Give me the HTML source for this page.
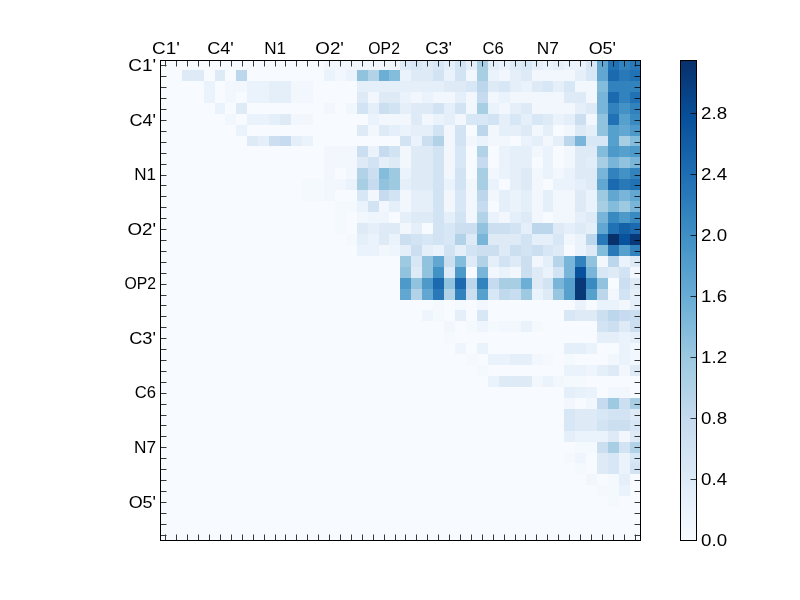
<!DOCTYPE html>
<html><head><meta charset="utf-8"><title>heatmap</title>
<style>html,body{margin:0;padding:0;background:#fff;}svg{display:block;will-change:transform;}text{font-family:"Liberation Sans",sans-serif;font-size:16.6px;fill:#000;}</style></head><body>
<svg width="800" height="600" viewBox="0 0 800 600">
<rect x="0" y="0" width="800" height="600" fill="#fff"/>
<g shape-rendering="crispEdges">
<rect x="160" y="60" width="481" height="481" fill="#f7fbff"/>
<rect x="324" y="60" width="76" height="10" fill="#f1f7fd"/>
<rect x="400" y="60" width="11" height="10" fill="#deebf7"/>
<rect x="411" y="60" width="11" height="10" fill="#d8e7f5"/>
<rect x="422" y="60" width="11" height="10" fill="#deebf7"/>
<rect x="433" y="60" width="11" height="10" fill="#d8e7f5"/>
<rect x="444" y="60" width="11" height="10" fill="#e4eff9"/>
<rect x="455" y="60" width="11" height="10" fill="#d2e3f3"/>
<rect x="466" y="60" width="11" height="10" fill="#e4eff9"/>
<rect x="477" y="60" width="11" height="10" fill="#a8cee4"/>
<rect x="488" y="60" width="11" height="10" fill="#e4eff9"/>
<rect x="499" y="60" width="11" height="10" fill="#eaf3fb"/>
<rect x="510" y="60" width="11" height="10" fill="#deebf7"/>
<rect x="521" y="60" width="11" height="10" fill="#d8e7f5"/>
<rect x="532" y="60" width="11" height="10" fill="#e4eff9"/>
<rect x="543" y="60" width="10" height="10" fill="#eaf3fb"/>
<rect x="553" y="60" width="11" height="10" fill="#e4eff9"/>
<rect x="564" y="60" width="22" height="10" fill="#eaf3fb"/>
<rect x="586" y="60" width="11" height="10" fill="#d8e7f5"/>
<rect x="597" y="60" width="11" height="10" fill="#61a7d2"/>
<rect x="608" y="60" width="11" height="10" fill="#2171b5"/>
<rect x="619" y="60" width="11" height="10" fill="#3282be"/>
<rect x="630" y="60" width="11" height="10" fill="#2979b9"/>
<rect x="182" y="70" width="22" height="11" fill="#deebf7"/>
<rect x="215" y="70" width="10" height="11" fill="#deebf7"/>
<rect x="236" y="70" width="11" height="11" fill="#bcd7ec"/>
<rect x="324" y="70" width="11" height="11" fill="#eaf3fb"/>
<rect x="335" y="70" width="11" height="11" fill="#f1f7fd"/>
<rect x="346" y="70" width="11" height="11" fill="#eaf3fb"/>
<rect x="357" y="70" width="11" height="11" fill="#91c3de"/>
<rect x="368" y="70" width="11" height="11" fill="#b2d2e8"/>
<rect x="379" y="70" width="10" height="11" fill="#6baed6"/>
<rect x="389" y="70" width="11" height="11" fill="#84bcdc"/>
<rect x="400" y="70" width="11" height="11" fill="#eaf3fb"/>
<rect x="411" y="70" width="22" height="11" fill="#deebf7"/>
<rect x="433" y="70" width="11" height="11" fill="#d2e3f3"/>
<rect x="444" y="70" width="11" height="11" fill="#eaf3fb"/>
<rect x="455" y="70" width="11" height="11" fill="#d2e3f3"/>
<rect x="466" y="70" width="11" height="11" fill="#f1f7fd"/>
<rect x="477" y="70" width="11" height="11" fill="#a8cee4"/>
<rect x="488" y="70" width="11" height="11" fill="#eaf3fb"/>
<rect x="499" y="70" width="11" height="11" fill="#f1f7fd"/>
<rect x="510" y="70" width="11" height="11" fill="#e4eff9"/>
<rect x="521" y="70" width="11" height="11" fill="#deebf7"/>
<rect x="532" y="70" width="43" height="11" fill="#f1f7fd"/>
<rect x="575" y="70" width="11" height="11" fill="#e4eff9"/>
<rect x="586" y="70" width="11" height="11" fill="#d8e7f5"/>
<rect x="597" y="70" width="11" height="11" fill="#61a7d2"/>
<rect x="608" y="70" width="11" height="11" fill="#1b69af"/>
<rect x="619" y="70" width="11" height="11" fill="#2979b9"/>
<rect x="630" y="70" width="11" height="11" fill="#2171b5"/>
<rect x="204" y="81" width="11" height="11" fill="#eaf3fb"/>
<rect x="225" y="81" width="22" height="11" fill="#f1f7fd"/>
<rect x="247" y="81" width="22" height="11" fill="#eaf3fb"/>
<rect x="269" y="81" width="22" height="11" fill="#e4eff9"/>
<rect x="291" y="81" width="22" height="11" fill="#f1f7fd"/>
<rect x="357" y="81" width="87" height="11" fill="#e4eff9"/>
<rect x="444" y="81" width="22" height="11" fill="#deebf7"/>
<rect x="466" y="81" width="11" height="11" fill="#d8e7f5"/>
<rect x="477" y="81" width="11" height="11" fill="#bcd7ec"/>
<rect x="488" y="81" width="11" height="11" fill="#deebf7"/>
<rect x="499" y="81" width="11" height="11" fill="#d8e7f5"/>
<rect x="510" y="81" width="11" height="11" fill="#e4eff9"/>
<rect x="521" y="81" width="11" height="11" fill="#eaf3fb"/>
<rect x="532" y="81" width="11" height="11" fill="#deebf7"/>
<rect x="543" y="81" width="10" height="11" fill="#d8e7f5"/>
<rect x="553" y="81" width="11" height="11" fill="#e4eff9"/>
<rect x="564" y="81" width="11" height="11" fill="#d8e7f5"/>
<rect x="575" y="81" width="22" height="11" fill="#f1f7fd"/>
<rect x="597" y="81" width="11" height="11" fill="#84bcdc"/>
<rect x="608" y="81" width="33" height="11" fill="#3282be"/>
<rect x="204" y="92" width="11" height="11" fill="#eaf3fb"/>
<rect x="225" y="92" width="11" height="11" fill="#f1f7fd"/>
<rect x="247" y="92" width="22" height="11" fill="#eaf3fb"/>
<rect x="269" y="92" width="22" height="11" fill="#e4eff9"/>
<rect x="291" y="92" width="22" height="11" fill="#f1f7fd"/>
<rect x="357" y="92" width="11" height="11" fill="#deebf7"/>
<rect x="368" y="92" width="11" height="11" fill="#f1f7fd"/>
<rect x="379" y="92" width="21" height="11" fill="#deebf7"/>
<rect x="400" y="92" width="11" height="11" fill="#eaf3fb"/>
<rect x="411" y="92" width="11" height="11" fill="#f1f7fd"/>
<rect x="422" y="92" width="11" height="11" fill="#eaf3fb"/>
<rect x="433" y="92" width="22" height="11" fill="#f1f7fd"/>
<rect x="455" y="92" width="11" height="11" fill="#e4eff9"/>
<rect x="466" y="92" width="11" height="11" fill="#f1f7fd"/>
<rect x="477" y="92" width="11" height="11" fill="#c6dbef"/>
<rect x="488" y="92" width="11" height="11" fill="#f1f7fd"/>
<rect x="499" y="92" width="11" height="11" fill="#eaf3fb"/>
<rect x="510" y="92" width="54" height="11" fill="#f1f7fd"/>
<rect x="564" y="92" width="22" height="11" fill="#deebf7"/>
<rect x="586" y="92" width="11" height="11" fill="#f1f7fd"/>
<rect x="597" y="92" width="11" height="11" fill="#78b5d9"/>
<rect x="608" y="92" width="11" height="11" fill="#1b69af"/>
<rect x="619" y="92" width="11" height="11" fill="#3282be"/>
<rect x="630" y="92" width="11" height="11" fill="#2171b5"/>
<rect x="215" y="103" width="10" height="11" fill="#eaf3fb"/>
<rect x="236" y="103" width="11" height="11" fill="#deebf7"/>
<rect x="324" y="103" width="11" height="11" fill="#f1f7fd"/>
<rect x="346" y="103" width="11" height="11" fill="#f1f7fd"/>
<rect x="357" y="103" width="11" height="11" fill="#d2e3f3"/>
<rect x="368" y="103" width="11" height="11" fill="#e4eff9"/>
<rect x="379" y="103" width="10" height="11" fill="#ccdff1"/>
<rect x="389" y="103" width="11" height="11" fill="#d2e3f3"/>
<rect x="400" y="103" width="11" height="11" fill="#e4eff9"/>
<rect x="411" y="103" width="22" height="11" fill="#deebf7"/>
<rect x="433" y="103" width="11" height="11" fill="#d2e3f3"/>
<rect x="444" y="103" width="11" height="11" fill="#e4eff9"/>
<rect x="455" y="103" width="11" height="11" fill="#d2e3f3"/>
<rect x="466" y="103" width="11" height="11" fill="#f1f7fd"/>
<rect x="477" y="103" width="11" height="11" fill="#a8cee4"/>
<rect x="488" y="103" width="11" height="11" fill="#eaf3fb"/>
<rect x="499" y="103" width="11" height="11" fill="#f1f7fd"/>
<rect x="510" y="103" width="11" height="11" fill="#e4eff9"/>
<rect x="521" y="103" width="11" height="11" fill="#deebf7"/>
<rect x="532" y="103" width="43" height="11" fill="#f1f7fd"/>
<rect x="575" y="103" width="11" height="11" fill="#e4eff9"/>
<rect x="586" y="103" width="11" height="11" fill="#deebf7"/>
<rect x="597" y="103" width="11" height="11" fill="#78b5d9"/>
<rect x="608" y="103" width="11" height="11" fill="#3282be"/>
<rect x="619" y="103" width="11" height="11" fill="#4292c6"/>
<rect x="630" y="103" width="11" height="11" fill="#3282be"/>
<rect x="225" y="114" width="11" height="11" fill="#f1f7fd"/>
<rect x="247" y="114" width="22" height="11" fill="#eaf3fb"/>
<rect x="269" y="114" width="11" height="11" fill="#e4eff9"/>
<rect x="280" y="114" width="11" height="11" fill="#deebf7"/>
<rect x="291" y="114" width="22" height="11" fill="#f1f7fd"/>
<rect x="368" y="114" width="11" height="11" fill="#eaf3fb"/>
<rect x="379" y="114" width="32" height="11" fill="#f1f7fd"/>
<rect x="411" y="114" width="11" height="11" fill="#deebf7"/>
<rect x="422" y="114" width="11" height="11" fill="#f1f7fd"/>
<rect x="433" y="114" width="11" height="11" fill="#eaf3fb"/>
<rect x="444" y="114" width="11" height="11" fill="#e4eff9"/>
<rect x="455" y="114" width="11" height="11" fill="#f1f7fd"/>
<rect x="466" y="114" width="22" height="11" fill="#d8e7f5"/>
<rect x="488" y="114" width="11" height="11" fill="#d2e3f3"/>
<rect x="499" y="114" width="11" height="11" fill="#e4eff9"/>
<rect x="510" y="114" width="11" height="11" fill="#d8e7f5"/>
<rect x="521" y="114" width="11" height="11" fill="#e4eff9"/>
<rect x="532" y="114" width="11" height="11" fill="#d8e7f5"/>
<rect x="543" y="114" width="10" height="11" fill="#deebf7"/>
<rect x="553" y="114" width="11" height="11" fill="#eaf3fb"/>
<rect x="564" y="114" width="11" height="11" fill="#e4eff9"/>
<rect x="575" y="114" width="11" height="11" fill="#ccdff1"/>
<rect x="586" y="114" width="11" height="11" fill="#f1f7fd"/>
<rect x="597" y="114" width="11" height="11" fill="#91c3de"/>
<rect x="608" y="114" width="11" height="11" fill="#2171b5"/>
<rect x="619" y="114" width="11" height="11" fill="#56a0ce"/>
<rect x="630" y="114" width="11" height="11" fill="#3a8ac2"/>
<rect x="236" y="125" width="11" height="11" fill="#eaf3fb"/>
<rect x="357" y="125" width="11" height="11" fill="#deebf7"/>
<rect x="368" y="125" width="11" height="11" fill="#f1f7fd"/>
<rect x="379" y="125" width="10" height="11" fill="#deebf7"/>
<rect x="389" y="125" width="11" height="11" fill="#e4eff9"/>
<rect x="400" y="125" width="11" height="11" fill="#eaf3fb"/>
<rect x="411" y="125" width="22" height="11" fill="#e4eff9"/>
<rect x="433" y="125" width="11" height="11" fill="#d2e3f3"/>
<rect x="444" y="125" width="11" height="11" fill="#f1f7fd"/>
<rect x="455" y="125" width="11" height="11" fill="#d2e3f3"/>
<rect x="477" y="125" width="11" height="11" fill="#bcd7ec"/>
<rect x="488" y="125" width="11" height="11" fill="#f1f7fd"/>
<rect x="499" y="125" width="22" height="11" fill="#e4eff9"/>
<rect x="521" y="125" width="11" height="11" fill="#deebf7"/>
<rect x="532" y="125" width="11" height="11" fill="#f1f7fd"/>
<rect x="543" y="125" width="10" height="11" fill="#e4eff9"/>
<rect x="564" y="125" width="11" height="11" fill="#f1f7fd"/>
<rect x="575" y="125" width="11" height="11" fill="#deebf7"/>
<rect x="586" y="125" width="11" height="11" fill="#e4eff9"/>
<rect x="597" y="125" width="11" height="11" fill="#91c3de"/>
<rect x="608" y="125" width="11" height="11" fill="#56a0ce"/>
<rect x="619" y="125" width="11" height="11" fill="#61a7d2"/>
<rect x="630" y="125" width="11" height="11" fill="#4c99ca"/>
<rect x="247" y="136" width="11" height="10" fill="#deebf7"/>
<rect x="258" y="136" width="11" height="10" fill="#e4eff9"/>
<rect x="269" y="136" width="11" height="10" fill="#ccdff1"/>
<rect x="280" y="136" width="11" height="10" fill="#c6dbef"/>
<rect x="291" y="136" width="11" height="10" fill="#e4eff9"/>
<rect x="302" y="136" width="11" height="10" fill="#eaf3fb"/>
<rect x="400" y="136" width="11" height="10" fill="#d2e3f3"/>
<rect x="411" y="136" width="11" height="10" fill="#eaf3fb"/>
<rect x="422" y="136" width="11" height="10" fill="#ccdff1"/>
<rect x="433" y="136" width="11" height="10" fill="#b2d2e8"/>
<rect x="444" y="136" width="11" height="10" fill="#f1f7fd"/>
<rect x="455" y="136" width="11" height="10" fill="#d2e3f3"/>
<rect x="466" y="136" width="11" height="10" fill="#f1f7fd"/>
<rect x="477" y="136" width="11" height="10" fill="#eaf3fb"/>
<rect x="488" y="136" width="22" height="10" fill="#f1f7fd"/>
<rect x="521" y="136" width="11" height="10" fill="#eaf3fb"/>
<rect x="532" y="136" width="11" height="10" fill="#e4eff9"/>
<rect x="543" y="136" width="10" height="10" fill="#f1f7fd"/>
<rect x="553" y="136" width="11" height="10" fill="#e4eff9"/>
<rect x="564" y="136" width="11" height="10" fill="#bcd7ec"/>
<rect x="575" y="136" width="11" height="10" fill="#78b5d9"/>
<rect x="586" y="136" width="22" height="10" fill="#d8e7f5"/>
<rect x="608" y="136" width="11" height="10" fill="#56a0ce"/>
<rect x="619" y="136" width="11" height="10" fill="#a8cee4"/>
<rect x="630" y="136" width="11" height="10" fill="#84bcdc"/>
<rect x="324" y="146" width="33" height="11" fill="#f1f7fd"/>
<rect x="357" y="146" width="11" height="11" fill="#ccdff1"/>
<rect x="368" y="146" width="11" height="11" fill="#eaf3fb"/>
<rect x="379" y="146" width="10" height="11" fill="#c6dbef"/>
<rect x="389" y="146" width="11" height="11" fill="#d2e3f3"/>
<rect x="400" y="146" width="11" height="11" fill="#f1f7fd"/>
<rect x="411" y="146" width="22" height="11" fill="#deebf7"/>
<rect x="433" y="146" width="11" height="11" fill="#d2e3f3"/>
<rect x="444" y="146" width="11" height="11" fill="#f1f7fd"/>
<rect x="455" y="146" width="11" height="11" fill="#d8e7f5"/>
<rect x="477" y="146" width="11" height="11" fill="#b2d2e8"/>
<rect x="499" y="146" width="11" height="11" fill="#eaf3fb"/>
<rect x="510" y="146" width="22" height="11" fill="#e4eff9"/>
<rect x="532" y="146" width="11" height="11" fill="#f1f7fd"/>
<rect x="543" y="146" width="10" height="11" fill="#eaf3fb"/>
<rect x="564" y="146" width="11" height="11" fill="#f1f7fd"/>
<rect x="575" y="146" width="22" height="11" fill="#deebf7"/>
<rect x="597" y="146" width="11" height="11" fill="#84bcdc"/>
<rect x="608" y="146" width="11" height="11" fill="#4c99ca"/>
<rect x="619" y="146" width="11" height="11" fill="#56a0ce"/>
<rect x="630" y="146" width="11" height="11" fill="#4c99ca"/>
<rect x="324" y="157" width="33" height="11" fill="#f1f7fd"/>
<rect x="357" y="157" width="11" height="11" fill="#deebf7"/>
<rect x="368" y="157" width="11" height="11" fill="#d2e3f3"/>
<rect x="379" y="157" width="10" height="11" fill="#e4eff9"/>
<rect x="389" y="157" width="11" height="11" fill="#deebf7"/>
<rect x="400" y="157" width="11" height="11" fill="#f1f7fd"/>
<rect x="411" y="157" width="22" height="11" fill="#deebf7"/>
<rect x="433" y="157" width="11" height="11" fill="#d2e3f3"/>
<rect x="444" y="157" width="11" height="11" fill="#f1f7fd"/>
<rect x="455" y="157" width="11" height="11" fill="#d8e7f5"/>
<rect x="477" y="157" width="11" height="11" fill="#c6dbef"/>
<rect x="499" y="157" width="11" height="11" fill="#eaf3fb"/>
<rect x="510" y="157" width="22" height="11" fill="#e4eff9"/>
<rect x="543" y="157" width="10" height="11" fill="#eaf3fb"/>
<rect x="564" y="157" width="11" height="11" fill="#f1f7fd"/>
<rect x="575" y="157" width="11" height="11" fill="#deebf7"/>
<rect x="586" y="157" width="11" height="11" fill="#e1edf8"/>
<rect x="597" y="157" width="11" height="11" fill="#a8cee4"/>
<rect x="608" y="157" width="11" height="11" fill="#78b5d9"/>
<rect x="619" y="157" width="11" height="11" fill="#91c3de"/>
<rect x="630" y="157" width="11" height="11" fill="#78b5d9"/>
<rect x="324" y="168" width="11" height="11" fill="#f1f7fd"/>
<rect x="346" y="168" width="11" height="11" fill="#f1f7fd"/>
<rect x="357" y="168" width="11" height="11" fill="#b2d2e8"/>
<rect x="368" y="168" width="11" height="11" fill="#ccdff1"/>
<rect x="379" y="168" width="10" height="11" fill="#84bcdc"/>
<rect x="389" y="168" width="11" height="11" fill="#9ecae1"/>
<rect x="400" y="168" width="11" height="11" fill="#eaf3fb"/>
<rect x="411" y="168" width="22" height="11" fill="#deebf7"/>
<rect x="433" y="168" width="11" height="11" fill="#d2e3f3"/>
<rect x="444" y="168" width="11" height="11" fill="#f1f7fd"/>
<rect x="455" y="168" width="11" height="11" fill="#d2e3f3"/>
<rect x="477" y="168" width="11" height="11" fill="#a8cee4"/>
<rect x="488" y="168" width="11" height="11" fill="#f1f7fd"/>
<rect x="499" y="168" width="11" height="11" fill="#eaf3fb"/>
<rect x="510" y="168" width="11" height="11" fill="#e4eff9"/>
<rect x="521" y="168" width="11" height="11" fill="#deebf7"/>
<rect x="532" y="168" width="11" height="11" fill="#f1f7fd"/>
<rect x="543" y="168" width="10" height="11" fill="#eaf3fb"/>
<rect x="553" y="168" width="11" height="11" fill="#f1f7fd"/>
<rect x="564" y="168" width="11" height="11" fill="#eaf3fb"/>
<rect x="575" y="168" width="22" height="11" fill="#deebf7"/>
<rect x="597" y="168" width="11" height="11" fill="#78b5d9"/>
<rect x="608" y="168" width="11" height="11" fill="#3282be"/>
<rect x="619" y="168" width="11" height="11" fill="#4292c6"/>
<rect x="630" y="168" width="11" height="11" fill="#3282be"/>
<rect x="302" y="179" width="22" height="11" fill="#f4f9fe"/>
<rect x="324" y="179" width="22" height="11" fill="#f1f7fd"/>
<rect x="346" y="179" width="11" height="11" fill="#eaf3fb"/>
<rect x="357" y="179" width="11" height="11" fill="#a8cee4"/>
<rect x="368" y="179" width="11" height="11" fill="#c6dbef"/>
<rect x="379" y="179" width="10" height="11" fill="#91c3de"/>
<rect x="389" y="179" width="11" height="11" fill="#9ecae1"/>
<rect x="400" y="179" width="11" height="11" fill="#e4eff9"/>
<rect x="411" y="179" width="22" height="11" fill="#deebf7"/>
<rect x="433" y="179" width="11" height="11" fill="#d2e3f3"/>
<rect x="444" y="179" width="11" height="11" fill="#eaf3fb"/>
<rect x="455" y="179" width="11" height="11" fill="#d2e3f3"/>
<rect x="466" y="179" width="11" height="11" fill="#f1f7fd"/>
<rect x="477" y="179" width="11" height="11" fill="#a8cee4"/>
<rect x="488" y="179" width="11" height="11" fill="#eaf3fb"/>
<rect x="510" y="179" width="11" height="11" fill="#e4eff9"/>
<rect x="521" y="179" width="11" height="11" fill="#deebf7"/>
<rect x="532" y="179" width="11" height="11" fill="#f1f7fd"/>
<rect x="553" y="179" width="22" height="11" fill="#eaf3fb"/>
<rect x="575" y="179" width="11" height="11" fill="#e4eff9"/>
<rect x="586" y="179" width="11" height="11" fill="#deebf7"/>
<rect x="597" y="179" width="11" height="11" fill="#61a7d2"/>
<rect x="608" y="179" width="11" height="11" fill="#1b69af"/>
<rect x="619" y="179" width="11" height="11" fill="#2979b9"/>
<rect x="630" y="179" width="11" height="11" fill="#2171b5"/>
<rect x="302" y="190" width="22" height="11" fill="#f4f9fe"/>
<rect x="324" y="190" width="11" height="11" fill="#f1f7fd"/>
<rect x="357" y="190" width="11" height="11" fill="#d8e7f5"/>
<rect x="368" y="190" width="11" height="11" fill="#f1f7fd"/>
<rect x="379" y="190" width="10" height="11" fill="#c6dbef"/>
<rect x="389" y="190" width="11" height="11" fill="#d2e3f3"/>
<rect x="400" y="190" width="11" height="11" fill="#f1f7fd"/>
<rect x="411" y="190" width="22" height="11" fill="#e4eff9"/>
<rect x="433" y="190" width="11" height="11" fill="#d2e3f3"/>
<rect x="444" y="190" width="11" height="11" fill="#f1f7fd"/>
<rect x="455" y="190" width="11" height="11" fill="#d8e7f5"/>
<rect x="466" y="190" width="11" height="11" fill="#f1f7fd"/>
<rect x="477" y="190" width="11" height="11" fill="#bcd7ec"/>
<rect x="488" y="190" width="11" height="11" fill="#f1f7fd"/>
<rect x="499" y="190" width="11" height="11" fill="#e4eff9"/>
<rect x="510" y="190" width="11" height="11" fill="#eaf3fb"/>
<rect x="521" y="190" width="11" height="11" fill="#e4eff9"/>
<rect x="532" y="190" width="11" height="11" fill="#f1f7fd"/>
<rect x="543" y="190" width="10" height="11" fill="#e4eff9"/>
<rect x="553" y="190" width="22" height="11" fill="#f1f7fd"/>
<rect x="575" y="190" width="11" height="11" fill="#deebf7"/>
<rect x="586" y="190" width="11" height="11" fill="#eaf3fb"/>
<rect x="597" y="190" width="11" height="11" fill="#9ecae1"/>
<rect x="608" y="190" width="11" height="11" fill="#61a7d2"/>
<rect x="619" y="190" width="11" height="11" fill="#78b5d9"/>
<rect x="630" y="190" width="11" height="11" fill="#61a7d2"/>
<rect x="335" y="201" width="22" height="11" fill="#f4f9fe"/>
<rect x="357" y="201" width="11" height="11" fill="#eaf3fb"/>
<rect x="368" y="201" width="11" height="11" fill="#d2e3f3"/>
<rect x="379" y="201" width="10" height="11" fill="#f1f7fd"/>
<rect x="389" y="201" width="11" height="11" fill="#e4eff9"/>
<rect x="400" y="201" width="11" height="11" fill="#f1f7fd"/>
<rect x="411" y="201" width="22" height="11" fill="#e4eff9"/>
<rect x="433" y="201" width="11" height="11" fill="#d2e3f3"/>
<rect x="444" y="201" width="11" height="11" fill="#f1f7fd"/>
<rect x="455" y="201" width="11" height="11" fill="#d8e7f5"/>
<rect x="466" y="201" width="11" height="11" fill="#f1f7fd"/>
<rect x="477" y="201" width="11" height="11" fill="#c6dbef"/>
<rect x="499" y="201" width="11" height="11" fill="#e4eff9"/>
<rect x="510" y="201" width="11" height="11" fill="#eaf3fb"/>
<rect x="521" y="201" width="11" height="11" fill="#e4eff9"/>
<rect x="532" y="201" width="11" height="11" fill="#f1f7fd"/>
<rect x="543" y="201" width="10" height="11" fill="#e4eff9"/>
<rect x="553" y="201" width="22" height="11" fill="#f1f7fd"/>
<rect x="575" y="201" width="11" height="11" fill="#deebf7"/>
<rect x="586" y="201" width="11" height="11" fill="#eaf3fb"/>
<rect x="597" y="201" width="11" height="11" fill="#a8cee4"/>
<rect x="608" y="201" width="11" height="11" fill="#84bcdc"/>
<rect x="619" y="201" width="11" height="11" fill="#9ecae1"/>
<rect x="630" y="201" width="11" height="11" fill="#78b5d9"/>
<rect x="335" y="212" width="11" height="11" fill="#f4f9fe"/>
<rect x="357" y="212" width="11" height="11" fill="#f1f7fd"/>
<rect x="368" y="212" width="21" height="11" fill="#eef5fc"/>
<rect x="400" y="212" width="11" height="11" fill="#e4eff9"/>
<rect x="411" y="212" width="22" height="11" fill="#deebf7"/>
<rect x="433" y="212" width="11" height="11" fill="#d2e3f3"/>
<rect x="444" y="212" width="11" height="11" fill="#e4eff9"/>
<rect x="455" y="212" width="11" height="11" fill="#d2e3f3"/>
<rect x="466" y="212" width="11" height="11" fill="#f1f7fd"/>
<rect x="477" y="212" width="11" height="11" fill="#b2d2e8"/>
<rect x="488" y="212" width="11" height="11" fill="#eaf3fb"/>
<rect x="499" y="212" width="11" height="11" fill="#f1f7fd"/>
<rect x="510" y="212" width="11" height="11" fill="#e4eff9"/>
<rect x="521" y="212" width="11" height="11" fill="#deebf7"/>
<rect x="532" y="212" width="11" height="11" fill="#f1f7fd"/>
<rect x="553" y="212" width="22" height="11" fill="#f1f7fd"/>
<rect x="575" y="212" width="11" height="11" fill="#e4eff9"/>
<rect x="586" y="212" width="11" height="11" fill="#deebf7"/>
<rect x="597" y="212" width="11" height="11" fill="#78b5d9"/>
<rect x="608" y="212" width="11" height="11" fill="#3a8ac2"/>
<rect x="619" y="212" width="11" height="11" fill="#4c99ca"/>
<rect x="630" y="212" width="11" height="11" fill="#3a8ac2"/>
<rect x="335" y="223" width="11" height="11" fill="#f4f9fe"/>
<rect x="357" y="223" width="11" height="11" fill="#deebf7"/>
<rect x="368" y="223" width="11" height="11" fill="#e4eff9"/>
<rect x="379" y="223" width="21" height="11" fill="#deebf7"/>
<rect x="400" y="223" width="11" height="11" fill="#f1f7fd"/>
<rect x="411" y="223" width="11" height="11" fill="#e4eff9"/>
<rect x="433" y="223" width="11" height="11" fill="#d2e3f3"/>
<rect x="444" y="223" width="11" height="11" fill="#d8e7f5"/>
<rect x="455" y="223" width="22" height="11" fill="#ccdff1"/>
<rect x="477" y="223" width="11" height="11" fill="#91c3de"/>
<rect x="488" y="223" width="22" height="11" fill="#ccdff1"/>
<rect x="510" y="223" width="11" height="11" fill="#d2e3f3"/>
<rect x="521" y="223" width="11" height="11" fill="#e4eff9"/>
<rect x="532" y="223" width="21" height="11" fill="#bcd7ec"/>
<rect x="553" y="223" width="11" height="11" fill="#deebf7"/>
<rect x="564" y="223" width="11" height="11" fill="#e4eff9"/>
<rect x="575" y="223" width="11" height="11" fill="#deebf7"/>
<rect x="586" y="223" width="11" height="11" fill="#e4eff9"/>
<rect x="597" y="223" width="11" height="11" fill="#61a7d2"/>
<rect x="608" y="223" width="11" height="11" fill="#2171b5"/>
<rect x="619" y="223" width="11" height="11" fill="#1461a8"/>
<rect x="630" y="223" width="11" height="11" fill="#1b69af"/>
<rect x="346" y="234" width="11" height="11" fill="#f4f9fe"/>
<rect x="357" y="234" width="11" height="11" fill="#e4eff9"/>
<rect x="368" y="234" width="11" height="11" fill="#eaf3fb"/>
<rect x="379" y="234" width="10" height="11" fill="#deebf7"/>
<rect x="389" y="234" width="11" height="11" fill="#eaf3fb"/>
<rect x="400" y="234" width="11" height="11" fill="#ccdff1"/>
<rect x="411" y="234" width="11" height="11" fill="#d2e3f3"/>
<rect x="422" y="234" width="11" height="11" fill="#d8e7f5"/>
<rect x="433" y="234" width="11" height="11" fill="#d2e3f3"/>
<rect x="444" y="234" width="11" height="11" fill="#d8e7f5"/>
<rect x="455" y="234" width="11" height="11" fill="#b2d2e8"/>
<rect x="466" y="234" width="11" height="11" fill="#deebf7"/>
<rect x="477" y="234" width="11" height="11" fill="#78b5d9"/>
<rect x="488" y="234" width="33" height="11" fill="#deebf7"/>
<rect x="521" y="234" width="11" height="11" fill="#d2e3f3"/>
<rect x="532" y="234" width="21" height="11" fill="#e4eff9"/>
<rect x="553" y="234" width="11" height="11" fill="#d8e7f5"/>
<rect x="564" y="234" width="11" height="11" fill="#f1f7fd"/>
<rect x="575" y="234" width="11" height="11" fill="#eaf3fb"/>
<rect x="586" y="234" width="11" height="11" fill="#bcd7ec"/>
<rect x="597" y="234" width="11" height="11" fill="#2979b9"/>
<rect x="608" y="234" width="11" height="11" fill="#08306b"/>
<rect x="619" y="234" width="11" height="11" fill="#08519c"/>
<rect x="630" y="234" width="11" height="11" fill="#083877"/>
<rect x="357" y="245" width="22" height="11" fill="#eaf3fb"/>
<rect x="379" y="245" width="10" height="11" fill="#f1f7fd"/>
<rect x="389" y="245" width="11" height="11" fill="#eef5fc"/>
<rect x="400" y="245" width="11" height="11" fill="#e4eff9"/>
<rect x="411" y="245" width="11" height="11" fill="#ccdff1"/>
<rect x="422" y="245" width="11" height="11" fill="#e4eff9"/>
<rect x="433" y="245" width="11" height="11" fill="#eaf3fb"/>
<rect x="444" y="245" width="11" height="11" fill="#d2e3f3"/>
<rect x="455" y="245" width="11" height="11" fill="#e4eff9"/>
<rect x="466" y="245" width="11" height="11" fill="#d2e3f3"/>
<rect x="477" y="245" width="22" height="11" fill="#ccdff1"/>
<rect x="499" y="245" width="11" height="11" fill="#deebf7"/>
<rect x="510" y="245" width="11" height="11" fill="#ccdff1"/>
<rect x="521" y="245" width="11" height="11" fill="#d2e3f3"/>
<rect x="532" y="245" width="11" height="11" fill="#ccdff1"/>
<rect x="543" y="245" width="10" height="11" fill="#d8e7f5"/>
<rect x="553" y="245" width="11" height="11" fill="#deebf7"/>
<rect x="575" y="245" width="11" height="11" fill="#eaf3fb"/>
<rect x="586" y="245" width="11" height="11" fill="#deebf7"/>
<rect x="597" y="245" width="11" height="11" fill="#84bcdc"/>
<rect x="608" y="245" width="11" height="11" fill="#2979b9"/>
<rect x="619" y="245" width="11" height="11" fill="#56a0ce"/>
<rect x="630" y="245" width="11" height="11" fill="#3282be"/>
<rect x="400" y="256" width="11" height="11" fill="#9ecae1"/>
<rect x="411" y="256" width="11" height="11" fill="#d8e7f5"/>
<rect x="422" y="256" width="11" height="11" fill="#91c3de"/>
<rect x="433" y="256" width="11" height="11" fill="#61a7d2"/>
<rect x="444" y="256" width="11" height="11" fill="#ccdff1"/>
<rect x="455" y="256" width="11" height="11" fill="#84bcdc"/>
<rect x="466" y="256" width="11" height="11" fill="#deebf7"/>
<rect x="477" y="256" width="11" height="11" fill="#b2d2e8"/>
<rect x="488" y="256" width="11" height="11" fill="#e4eff9"/>
<rect x="499" y="256" width="11" height="11" fill="#d2e3f3"/>
<rect x="510" y="256" width="11" height="11" fill="#deebf7"/>
<rect x="521" y="256" width="11" height="11" fill="#ccdff1"/>
<rect x="532" y="256" width="11" height="11" fill="#f1f7fd"/>
<rect x="543" y="256" width="10" height="11" fill="#e4eff9"/>
<rect x="553" y="256" width="11" height="11" fill="#b7d5ea"/>
<rect x="564" y="256" width="11" height="11" fill="#78b5d9"/>
<rect x="575" y="256" width="11" height="11" fill="#3282be"/>
<rect x="586" y="256" width="11" height="11" fill="#91c3de"/>
<rect x="597" y="256" width="11" height="11" fill="#f1f7fd"/>
<rect x="608" y="256" width="11" height="11" fill="#bcd7ec"/>
<rect x="619" y="256" width="11" height="11" fill="#eaf3fb"/>
<rect x="630" y="256" width="11" height="11" fill="#deebf7"/>
<rect x="400" y="267" width="11" height="11" fill="#91c3de"/>
<rect x="411" y="267" width="11" height="11" fill="#deebf7"/>
<rect x="422" y="267" width="11" height="11" fill="#91c3de"/>
<rect x="433" y="267" width="11" height="11" fill="#4292c6"/>
<rect x="444" y="267" width="11" height="11" fill="#deebf7"/>
<rect x="455" y="267" width="11" height="11" fill="#4c99ca"/>
<rect x="477" y="267" width="11" height="11" fill="#78b5d9"/>
<rect x="488" y="267" width="11" height="11" fill="#f1f7fd"/>
<rect x="499" y="267" width="11" height="11" fill="#eaf3fb"/>
<rect x="510" y="267" width="11" height="11" fill="#f1f7fd"/>
<rect x="521" y="267" width="11" height="11" fill="#ccdff1"/>
<rect x="532" y="267" width="11" height="11" fill="#deebf7"/>
<rect x="543" y="267" width="10" height="11" fill="#eaf3fb"/>
<rect x="553" y="267" width="11" height="11" fill="#d2e3f3"/>
<rect x="564" y="267" width="11" height="11" fill="#78b5d9"/>
<rect x="575" y="267" width="11" height="11" fill="#08519c"/>
<rect x="586" y="267" width="11" height="11" fill="#78b5d9"/>
<rect x="597" y="267" width="11" height="11" fill="#d8e7f5"/>
<rect x="608" y="267" width="11" height="11" fill="#deebf7"/>
<rect x="619" y="267" width="11" height="11" fill="#d2e3f3"/>
<rect x="630" y="267" width="11" height="11" fill="#f1f7fd"/>
<rect x="400" y="278" width="11" height="11" fill="#4c99ca"/>
<rect x="411" y="278" width="11" height="11" fill="#91c3de"/>
<rect x="422" y="278" width="11" height="11" fill="#4c99ca"/>
<rect x="433" y="278" width="11" height="11" fill="#1b69af"/>
<rect x="444" y="278" width="11" height="11" fill="#91c3de"/>
<rect x="455" y="278" width="11" height="11" fill="#1b69af"/>
<rect x="466" y="278" width="11" height="11" fill="#bcd7ec"/>
<rect x="477" y="278" width="11" height="11" fill="#3282be"/>
<rect x="488" y="278" width="11" height="11" fill="#c6dbef"/>
<rect x="499" y="278" width="22" height="11" fill="#a8cee4"/>
<rect x="521" y="278" width="11" height="11" fill="#6baed6"/>
<rect x="532" y="278" width="11" height="11" fill="#deebf7"/>
<rect x="543" y="278" width="10" height="11" fill="#d2e3f3"/>
<rect x="553" y="278" width="11" height="11" fill="#78b5d9"/>
<rect x="564" y="278" width="11" height="11" fill="#56a0ce"/>
<rect x="575" y="278" width="11" height="11" fill="#083877"/>
<rect x="586" y="278" width="11" height="11" fill="#3a8ac2"/>
<rect x="597" y="278" width="11" height="11" fill="#91c3de"/>
<rect x="619" y="278" width="11" height="11" fill="#ccdff1"/>
<rect x="630" y="278" width="11" height="11" fill="#deebf7"/>
<rect x="400" y="289" width="11" height="11" fill="#61a7d2"/>
<rect x="411" y="289" width="11" height="11" fill="#b2d2e8"/>
<rect x="422" y="289" width="11" height="11" fill="#61a7d2"/>
<rect x="433" y="289" width="11" height="11" fill="#2979b9"/>
<rect x="444" y="289" width="11" height="11" fill="#b2d2e8"/>
<rect x="455" y="289" width="11" height="11" fill="#3282be"/>
<rect x="466" y="289" width="11" height="11" fill="#ccdff1"/>
<rect x="477" y="289" width="11" height="11" fill="#56a0ce"/>
<rect x="488" y="289" width="11" height="11" fill="#d8e7f5"/>
<rect x="499" y="289" width="11" height="11" fill="#c1d9ed"/>
<rect x="510" y="289" width="11" height="11" fill="#c9ddf0"/>
<rect x="521" y="289" width="11" height="11" fill="#9ecae1"/>
<rect x="532" y="289" width="11" height="11" fill="#eaf3fb"/>
<rect x="543" y="289" width="10" height="11" fill="#deebf7"/>
<rect x="553" y="289" width="11" height="11" fill="#98c6e0"/>
<rect x="564" y="289" width="11" height="11" fill="#56a0ce"/>
<rect x="575" y="289" width="11" height="11" fill="#083877"/>
<rect x="586" y="289" width="11" height="11" fill="#56a0ce"/>
<rect x="597" y="289" width="11" height="11" fill="#bcd7ec"/>
<rect x="608" y="289" width="11" height="11" fill="#f1f7fd"/>
<rect x="619" y="289" width="11" height="11" fill="#d2e3f3"/>
<rect x="630" y="289" width="11" height="11" fill="#e4eff9"/>
<rect x="433" y="300" width="11" height="10" fill="#f4f9fe"/>
<rect x="455" y="300" width="11" height="10" fill="#f4f9fe"/>
<rect x="477" y="300" width="11" height="10" fill="#f1f7fd"/>
<rect x="575" y="300" width="11" height="10" fill="#eaf3fb"/>
<rect x="597" y="300" width="22" height="10" fill="#eaf3fb"/>
<rect x="619" y="300" width="11" height="10" fill="#f1f7fd"/>
<rect x="630" y="300" width="11" height="10" fill="#e4eff9"/>
<rect x="422" y="310" width="11" height="11" fill="#eef5fc"/>
<rect x="433" y="310" width="11" height="11" fill="#f4f9fe"/>
<rect x="455" y="310" width="11" height="11" fill="#e4eff9"/>
<rect x="477" y="310" width="11" height="11" fill="#d8e7f5"/>
<rect x="564" y="310" width="11" height="11" fill="#d8e7f5"/>
<rect x="575" y="310" width="22" height="11" fill="#deebf7"/>
<rect x="597" y="310" width="11" height="11" fill="#ccdff1"/>
<rect x="608" y="310" width="11" height="11" fill="#bcd7ec"/>
<rect x="619" y="310" width="11" height="11" fill="#c6dbef"/>
<rect x="630" y="310" width="11" height="11" fill="#ccdff1"/>
<rect x="444" y="321" width="11" height="11" fill="#f1f7fd"/>
<rect x="466" y="321" width="11" height="11" fill="#f4f9fe"/>
<rect x="477" y="321" width="11" height="11" fill="#eef5fc"/>
<rect x="488" y="321" width="11" height="11" fill="#f4f9fe"/>
<rect x="499" y="321" width="22" height="11" fill="#f1f7fd"/>
<rect x="521" y="321" width="11" height="11" fill="#eaf3fb"/>
<rect x="532" y="321" width="11" height="11" fill="#f4f9fe"/>
<rect x="597" y="321" width="11" height="11" fill="#d2e3f3"/>
<rect x="608" y="321" width="11" height="11" fill="#ccdff1"/>
<rect x="619" y="321" width="11" height="11" fill="#deebf7"/>
<rect x="630" y="321" width="11" height="11" fill="#ccdff1"/>
<rect x="444" y="332" width="11" height="11" fill="#f4f9fe"/>
<rect x="597" y="332" width="22" height="11" fill="#e4eff9"/>
<rect x="619" y="332" width="11" height="11" fill="#eaf3fb"/>
<rect x="630" y="332" width="11" height="11" fill="#e4eff9"/>
<rect x="455" y="343" width="11" height="11" fill="#eef5fc"/>
<rect x="477" y="343" width="11" height="11" fill="#eaf3fb"/>
<rect x="564" y="343" width="22" height="11" fill="#e4eff9"/>
<rect x="586" y="343" width="11" height="11" fill="#eaf3fb"/>
<rect x="619" y="343" width="11" height="11" fill="#eaf3fb"/>
<rect x="630" y="343" width="11" height="11" fill="#f1f7fd"/>
<rect x="466" y="354" width="11" height="11" fill="#f4f9fe"/>
<rect x="488" y="354" width="22" height="11" fill="#eaf3fb"/>
<rect x="510" y="354" width="22" height="11" fill="#e4eff9"/>
<rect x="532" y="354" width="11" height="11" fill="#f1f7fd"/>
<rect x="543" y="354" width="10" height="11" fill="#f4f9fe"/>
<rect x="564" y="354" width="11" height="11" fill="#f4f9fe"/>
<rect x="608" y="354" width="11" height="11" fill="#f1f7fd"/>
<rect x="619" y="354" width="11" height="11" fill="#eaf3fb"/>
<rect x="630" y="354" width="11" height="11" fill="#f1f7fd"/>
<rect x="477" y="365" width="11" height="11" fill="#f4f9fe"/>
<rect x="564" y="365" width="22" height="11" fill="#eaf3fb"/>
<rect x="586" y="365" width="11" height="11" fill="#eef5fc"/>
<rect x="597" y="365" width="11" height="11" fill="#e4eff9"/>
<rect x="608" y="365" width="11" height="11" fill="#deebf7"/>
<rect x="619" y="365" width="11" height="11" fill="#f1f7fd"/>
<rect x="630" y="365" width="11" height="11" fill="#deebf7"/>
<rect x="488" y="376" width="11" height="11" fill="#eaf3fb"/>
<rect x="499" y="376" width="33" height="11" fill="#deebf7"/>
<rect x="532" y="376" width="11" height="11" fill="#f1f7fd"/>
<rect x="543" y="376" width="10" height="11" fill="#eaf3fb"/>
<rect x="553" y="376" width="11" height="11" fill="#f1f7fd"/>
<rect x="564" y="376" width="22" height="11" fill="#f4f9fe"/>
<rect x="564" y="387" width="11" height="11" fill="#e4eff9"/>
<rect x="575" y="387" width="11" height="11" fill="#e7f1fa"/>
<rect x="586" y="387" width="11" height="11" fill="#eaf3fb"/>
<rect x="608" y="387" width="22" height="11" fill="#f1f7fd"/>
<rect x="564" y="398" width="11" height="11" fill="#f1f7fd"/>
<rect x="586" y="398" width="11" height="11" fill="#f1f7fd"/>
<rect x="597" y="398" width="11" height="11" fill="#c6dbef"/>
<rect x="608" y="398" width="11" height="11" fill="#9ecae1"/>
<rect x="619" y="398" width="11" height="11" fill="#ccdff1"/>
<rect x="630" y="398" width="11" height="11" fill="#a8cee4"/>
<rect x="564" y="409" width="11" height="11" fill="#d8e7f5"/>
<rect x="575" y="409" width="22" height="11" fill="#deebf7"/>
<rect x="597" y="409" width="11" height="11" fill="#d8e7f5"/>
<rect x="608" y="409" width="22" height="11" fill="#d2e3f3"/>
<rect x="630" y="409" width="11" height="11" fill="#deebf7"/>
<rect x="564" y="420" width="11" height="11" fill="#d8e7f5"/>
<rect x="575" y="420" width="22" height="11" fill="#deebf7"/>
<rect x="597" y="420" width="11" height="11" fill="#d2e3f3"/>
<rect x="608" y="420" width="22" height="11" fill="#ccdff1"/>
<rect x="630" y="420" width="11" height="11" fill="#d8e7f5"/>
<rect x="564" y="431" width="11" height="11" fill="#e4eff9"/>
<rect x="575" y="431" width="33" height="11" fill="#eaf3fb"/>
<rect x="608" y="431" width="11" height="11" fill="#deebf7"/>
<rect x="619" y="431" width="11" height="11" fill="#f1f7fd"/>
<rect x="630" y="431" width="11" height="11" fill="#deebf7"/>
<rect x="575" y="442" width="22" height="11" fill="#f4f9fe"/>
<rect x="597" y="442" width="11" height="11" fill="#ccdff1"/>
<rect x="608" y="442" width="11" height="11" fill="#a8cee4"/>
<rect x="619" y="442" width="11" height="11" fill="#d2e3f3"/>
<rect x="630" y="442" width="11" height="11" fill="#b2d2e8"/>
<rect x="564" y="453" width="11" height="10" fill="#f4f9fe"/>
<rect x="575" y="453" width="11" height="10" fill="#eef5fc"/>
<rect x="597" y="453" width="11" height="10" fill="#deebf7"/>
<rect x="608" y="453" width="11" height="10" fill="#d8e7f5"/>
<rect x="619" y="453" width="11" height="10" fill="#eaf3fb"/>
<rect x="630" y="453" width="11" height="10" fill="#d8e7f5"/>
<rect x="575" y="463" width="11" height="11" fill="#f4f9fe"/>
<rect x="597" y="463" width="11" height="11" fill="#deebf7"/>
<rect x="608" y="463" width="11" height="11" fill="#d8e7f5"/>
<rect x="619" y="463" width="11" height="11" fill="#eaf3fb"/>
<rect x="630" y="463" width="11" height="11" fill="#d2e3f3"/>
<rect x="586" y="474" width="11" height="11" fill="#f1f7fd"/>
<rect x="608" y="474" width="11" height="11" fill="#f4f9fe"/>
<rect x="619" y="474" width="11" height="11" fill="#e4eff9"/>
<rect x="597" y="485" width="22" height="11" fill="#f4f9fe"/>
<rect x="619" y="485" width="11" height="11" fill="#eaf3fb"/>
<rect x="608" y="496" width="11" height="11" fill="#f4f9fe"/>
</g>
<defs><linearGradient id="cb" x1="0" y1="1" x2="0" y2="0"><stop offset="0.0000" stop-color="#f7fbff"/><stop offset="0.1250" stop-color="#deebf7"/><stop offset="0.2500" stop-color="#c6dbef"/><stop offset="0.3750" stop-color="#9ecae1"/><stop offset="0.5000" stop-color="#6baed6"/><stop offset="0.6250" stop-color="#4292c6"/><stop offset="0.7500" stop-color="#2171b5"/><stop offset="0.8750" stop-color="#08519c"/><stop offset="1.0000" stop-color="#08306b"/></linearGradient></defs>
<rect x="680.5" y="60.5" width="16" height="480" fill="url(#cb)" stroke="#000" stroke-width="1"/>
<rect x="160.5" y="60.5" width="480" height="480" fill="none" stroke="#000" stroke-width="1"/>
<g shape-rendering="crispEdges" fill="#000" opacity="0.78"><rect x="165" y="61" width="1" height="5"/><rect x="165" y="66" width="1" height="1" opacity="0.50"/><rect x="165" y="535" width="1" height="5"/><rect x="165" y="534" width="1" height="1" opacity="0.50"/><rect x="161" y="65" width="5" height="1"/><rect x="166" y="65" width="1" height="1" opacity="0.50"/><rect x="635" y="65" width="5" height="1"/><rect x="634" y="65" width="1" height="1" opacity="0.50"/><rect x="176" y="61" width="1" height="5"/><rect x="176" y="66" width="1" height="1" opacity="0.50"/><rect x="176" y="535" width="1" height="5"/><rect x="176" y="534" width="1" height="1" opacity="0.50"/><rect x="161" y="76" width="5" height="1"/><rect x="166" y="76" width="1" height="1" opacity="0.50"/><rect x="635" y="76" width="5" height="1"/><rect x="634" y="76" width="1" height="1" opacity="0.50"/><rect x="187" y="61" width="1" height="5"/><rect x="187" y="66" width="1" height="1" opacity="0.50"/><rect x="187" y="535" width="1" height="5"/><rect x="187" y="534" width="1" height="1" opacity="0.50"/><rect x="161" y="87" width="5" height="1"/><rect x="166" y="87" width="1" height="1" opacity="0.50"/><rect x="635" y="87" width="5" height="1"/><rect x="634" y="87" width="1" height="1" opacity="0.50"/><rect x="198" y="61" width="1" height="5"/><rect x="198" y="66" width="1" height="1" opacity="0.50"/><rect x="198" y="535" width="1" height="5"/><rect x="198" y="534" width="1" height="1" opacity="0.50"/><rect x="161" y="98" width="5" height="1"/><rect x="166" y="98" width="1" height="1" opacity="0.50"/><rect x="635" y="98" width="5" height="1"/><rect x="634" y="98" width="1" height="1" opacity="0.50"/><rect x="209" y="61" width="1" height="5"/><rect x="209" y="66" width="1" height="1" opacity="0.50"/><rect x="209" y="535" width="1" height="5"/><rect x="209" y="534" width="1" height="1" opacity="0.50"/><rect x="161" y="109" width="5" height="1"/><rect x="166" y="109" width="1" height="1" opacity="0.50"/><rect x="635" y="109" width="5" height="1"/><rect x="634" y="109" width="1" height="1" opacity="0.50"/><rect x="220" y="61" width="1" height="5"/><rect x="220" y="66" width="1" height="1" opacity="0.50"/><rect x="220" y="535" width="1" height="5"/><rect x="220" y="534" width="1" height="1" opacity="0.50"/><rect x="161" y="120" width="5" height="1"/><rect x="166" y="120" width="1" height="1" opacity="0.50"/><rect x="635" y="120" width="5" height="1"/><rect x="634" y="120" width="1" height="1" opacity="0.50"/><rect x="231" y="61" width="1" height="5"/><rect x="231" y="66" width="1" height="1" opacity="0.50"/><rect x="231" y="535" width="1" height="5"/><rect x="231" y="534" width="1" height="1" opacity="0.50"/><rect x="161" y="131" width="5" height="1"/><rect x="166" y="131" width="1" height="1" opacity="0.50"/><rect x="635" y="131" width="5" height="1"/><rect x="634" y="131" width="1" height="1" opacity="0.50"/><rect x="242" y="61" width="1" height="5"/><rect x="242" y="66" width="1" height="1" opacity="0.50"/><rect x="242" y="535" width="1" height="5"/><rect x="242" y="534" width="1" height="1" opacity="0.50"/><rect x="161" y="142" width="5" height="1"/><rect x="166" y="142" width="1" height="1" opacity="0.50"/><rect x="635" y="142" width="5" height="1"/><rect x="634" y="142" width="1" height="1" opacity="0.50"/><rect x="253" y="61" width="1" height="5"/><rect x="253" y="66" width="1" height="1" opacity="0.50"/><rect x="253" y="535" width="1" height="5"/><rect x="253" y="534" width="1" height="1" opacity="0.50"/><rect x="161" y="153" width="5" height="1"/><rect x="166" y="153" width="1" height="1" opacity="0.50"/><rect x="635" y="153" width="5" height="1"/><rect x="634" y="153" width="1" height="1" opacity="0.50"/><rect x="264" y="61" width="1" height="5"/><rect x="264" y="66" width="1" height="1" opacity="0.50"/><rect x="264" y="535" width="1" height="5"/><rect x="264" y="534" width="1" height="1" opacity="0.50"/><rect x="161" y="164" width="5" height="1"/><rect x="166" y="164" width="1" height="1" opacity="0.50"/><rect x="635" y="164" width="5" height="1"/><rect x="634" y="164" width="1" height="1" opacity="0.50"/><rect x="275" y="61" width="1" height="5"/><rect x="275" y="66" width="1" height="1" opacity="0.50"/><rect x="275" y="535" width="1" height="5"/><rect x="275" y="534" width="1" height="1" opacity="0.50"/><rect x="161" y="175" width="5" height="1"/><rect x="166" y="175" width="1" height="1" opacity="0.50"/><rect x="635" y="175" width="5" height="1"/><rect x="634" y="175" width="1" height="1" opacity="0.50"/><rect x="285" y="61" width="1" height="5"/><rect x="285" y="66" width="1" height="1" opacity="0.50"/><rect x="285" y="535" width="1" height="5"/><rect x="285" y="534" width="1" height="1" opacity="0.50"/><rect x="161" y="185" width="5" height="1"/><rect x="166" y="185" width="1" height="1" opacity="0.50"/><rect x="635" y="185" width="5" height="1"/><rect x="634" y="185" width="1" height="1" opacity="0.50"/><rect x="296" y="61" width="1" height="5"/><rect x="296" y="66" width="1" height="1" opacity="0.50"/><rect x="296" y="535" width="1" height="5"/><rect x="296" y="534" width="1" height="1" opacity="0.50"/><rect x="161" y="196" width="5" height="1"/><rect x="166" y="196" width="1" height="1" opacity="0.50"/><rect x="635" y="196" width="5" height="1"/><rect x="634" y="196" width="1" height="1" opacity="0.50"/><rect x="307" y="61" width="1" height="5"/><rect x="307" y="66" width="1" height="1" opacity="0.50"/><rect x="307" y="535" width="1" height="5"/><rect x="307" y="534" width="1" height="1" opacity="0.50"/><rect x="161" y="207" width="5" height="1"/><rect x="166" y="207" width="1" height="1" opacity="0.50"/><rect x="635" y="207" width="5" height="1"/><rect x="634" y="207" width="1" height="1" opacity="0.50"/><rect x="318" y="61" width="1" height="5"/><rect x="318" y="66" width="1" height="1" opacity="0.50"/><rect x="318" y="535" width="1" height="5"/><rect x="318" y="534" width="1" height="1" opacity="0.50"/><rect x="161" y="218" width="5" height="1"/><rect x="166" y="218" width="1" height="1" opacity="0.50"/><rect x="635" y="218" width="5" height="1"/><rect x="634" y="218" width="1" height="1" opacity="0.50"/><rect x="329" y="61" width="1" height="5"/><rect x="329" y="66" width="1" height="1" opacity="0.50"/><rect x="329" y="535" width="1" height="5"/><rect x="329" y="534" width="1" height="1" opacity="0.50"/><rect x="161" y="229" width="5" height="1"/><rect x="166" y="229" width="1" height="1" opacity="0.50"/><rect x="635" y="229" width="5" height="1"/><rect x="634" y="229" width="1" height="1" opacity="0.50"/><rect x="340" y="61" width="1" height="5"/><rect x="340" y="66" width="1" height="1" opacity="0.50"/><rect x="340" y="535" width="1" height="5"/><rect x="340" y="534" width="1" height="1" opacity="0.50"/><rect x="161" y="240" width="5" height="1"/><rect x="166" y="240" width="1" height="1" opacity="0.50"/><rect x="635" y="240" width="5" height="1"/><rect x="634" y="240" width="1" height="1" opacity="0.50"/><rect x="351" y="61" width="1" height="5"/><rect x="351" y="66" width="1" height="1" opacity="0.50"/><rect x="351" y="535" width="1" height="5"/><rect x="351" y="534" width="1" height="1" opacity="0.50"/><rect x="161" y="251" width="5" height="1"/><rect x="166" y="251" width="1" height="1" opacity="0.50"/><rect x="635" y="251" width="5" height="1"/><rect x="634" y="251" width="1" height="1" opacity="0.50"/><rect x="362" y="61" width="1" height="5"/><rect x="362" y="66" width="1" height="1" opacity="0.50"/><rect x="362" y="535" width="1" height="5"/><rect x="362" y="534" width="1" height="1" opacity="0.50"/><rect x="161" y="262" width="5" height="1"/><rect x="166" y="262" width="1" height="1" opacity="0.50"/><rect x="635" y="262" width="5" height="1"/><rect x="634" y="262" width="1" height="1" opacity="0.50"/><rect x="373" y="61" width="1" height="5"/><rect x="373" y="66" width="1" height="1" opacity="0.50"/><rect x="373" y="535" width="1" height="5"/><rect x="373" y="534" width="1" height="1" opacity="0.50"/><rect x="161" y="273" width="5" height="1"/><rect x="166" y="273" width="1" height="1" opacity="0.50"/><rect x="635" y="273" width="5" height="1"/><rect x="634" y="273" width="1" height="1" opacity="0.50"/><rect x="384" y="61" width="1" height="5"/><rect x="384" y="66" width="1" height="1" opacity="0.50"/><rect x="384" y="535" width="1" height="5"/><rect x="384" y="534" width="1" height="1" opacity="0.50"/><rect x="161" y="284" width="5" height="1"/><rect x="166" y="284" width="1" height="1" opacity="0.50"/><rect x="635" y="284" width="5" height="1"/><rect x="634" y="284" width="1" height="1" opacity="0.50"/><rect x="395" y="61" width="1" height="5"/><rect x="395" y="66" width="1" height="1" opacity="0.50"/><rect x="395" y="535" width="1" height="5"/><rect x="395" y="534" width="1" height="1" opacity="0.50"/><rect x="161" y="295" width="5" height="1"/><rect x="166" y="295" width="1" height="1" opacity="0.50"/><rect x="635" y="295" width="5" height="1"/><rect x="634" y="295" width="1" height="1" opacity="0.50"/><rect x="405" y="61" width="1" height="5"/><rect x="405" y="66" width="1" height="1" opacity="0.50"/><rect x="405" y="535" width="1" height="5"/><rect x="405" y="534" width="1" height="1" opacity="0.50"/><rect x="161" y="305" width="5" height="1"/><rect x="166" y="305" width="1" height="1" opacity="0.50"/><rect x="635" y="305" width="5" height="1"/><rect x="634" y="305" width="1" height="1" opacity="0.50"/><rect x="416" y="61" width="1" height="5"/><rect x="416" y="66" width="1" height="1" opacity="0.50"/><rect x="416" y="535" width="1" height="5"/><rect x="416" y="534" width="1" height="1" opacity="0.50"/><rect x="161" y="316" width="5" height="1"/><rect x="166" y="316" width="1" height="1" opacity="0.50"/><rect x="635" y="316" width="5" height="1"/><rect x="634" y="316" width="1" height="1" opacity="0.50"/><rect x="427" y="61" width="1" height="5"/><rect x="427" y="66" width="1" height="1" opacity="0.50"/><rect x="427" y="535" width="1" height="5"/><rect x="427" y="534" width="1" height="1" opacity="0.50"/><rect x="161" y="327" width="5" height="1"/><rect x="166" y="327" width="1" height="1" opacity="0.50"/><rect x="635" y="327" width="5" height="1"/><rect x="634" y="327" width="1" height="1" opacity="0.50"/><rect x="438" y="61" width="1" height="5"/><rect x="438" y="66" width="1" height="1" opacity="0.50"/><rect x="438" y="535" width="1" height="5"/><rect x="438" y="534" width="1" height="1" opacity="0.50"/><rect x="161" y="338" width="5" height="1"/><rect x="166" y="338" width="1" height="1" opacity="0.50"/><rect x="635" y="338" width="5" height="1"/><rect x="634" y="338" width="1" height="1" opacity="0.50"/><rect x="449" y="61" width="1" height="5"/><rect x="449" y="66" width="1" height="1" opacity="0.50"/><rect x="449" y="535" width="1" height="5"/><rect x="449" y="534" width="1" height="1" opacity="0.50"/><rect x="161" y="349" width="5" height="1"/><rect x="166" y="349" width="1" height="1" opacity="0.50"/><rect x="635" y="349" width="5" height="1"/><rect x="634" y="349" width="1" height="1" opacity="0.50"/><rect x="460" y="61" width="1" height="5"/><rect x="460" y="66" width="1" height="1" opacity="0.50"/><rect x="460" y="535" width="1" height="5"/><rect x="460" y="534" width="1" height="1" opacity="0.50"/><rect x="161" y="360" width="5" height="1"/><rect x="166" y="360" width="1" height="1" opacity="0.50"/><rect x="635" y="360" width="5" height="1"/><rect x="634" y="360" width="1" height="1" opacity="0.50"/><rect x="471" y="61" width="1" height="5"/><rect x="471" y="66" width="1" height="1" opacity="0.50"/><rect x="471" y="535" width="1" height="5"/><rect x="471" y="534" width="1" height="1" opacity="0.50"/><rect x="161" y="371" width="5" height="1"/><rect x="166" y="371" width="1" height="1" opacity="0.50"/><rect x="635" y="371" width="5" height="1"/><rect x="634" y="371" width="1" height="1" opacity="0.50"/><rect x="482" y="61" width="1" height="5"/><rect x="482" y="66" width="1" height="1" opacity="0.50"/><rect x="482" y="535" width="1" height="5"/><rect x="482" y="534" width="1" height="1" opacity="0.50"/><rect x="161" y="382" width="5" height="1"/><rect x="166" y="382" width="1" height="1" opacity="0.50"/><rect x="635" y="382" width="5" height="1"/><rect x="634" y="382" width="1" height="1" opacity="0.50"/><rect x="493" y="61" width="1" height="5"/><rect x="493" y="66" width="1" height="1" opacity="0.50"/><rect x="493" y="535" width="1" height="5"/><rect x="493" y="534" width="1" height="1" opacity="0.50"/><rect x="161" y="393" width="5" height="1"/><rect x="166" y="393" width="1" height="1" opacity="0.50"/><rect x="635" y="393" width="5" height="1"/><rect x="634" y="393" width="1" height="1" opacity="0.50"/><rect x="504" y="61" width="1" height="5"/><rect x="504" y="66" width="1" height="1" opacity="0.50"/><rect x="504" y="535" width="1" height="5"/><rect x="504" y="534" width="1" height="1" opacity="0.50"/><rect x="161" y="404" width="5" height="1"/><rect x="166" y="404" width="1" height="1" opacity="0.50"/><rect x="635" y="404" width="5" height="1"/><rect x="634" y="404" width="1" height="1" opacity="0.50"/><rect x="515" y="61" width="1" height="5"/><rect x="515" y="66" width="1" height="1" opacity="0.50"/><rect x="515" y="535" width="1" height="5"/><rect x="515" y="534" width="1" height="1" opacity="0.50"/><rect x="161" y="415" width="5" height="1"/><rect x="166" y="415" width="1" height="1" opacity="0.50"/><rect x="635" y="415" width="5" height="1"/><rect x="634" y="415" width="1" height="1" opacity="0.50"/><rect x="525" y="61" width="1" height="5"/><rect x="525" y="66" width="1" height="1" opacity="0.50"/><rect x="525" y="535" width="1" height="5"/><rect x="525" y="534" width="1" height="1" opacity="0.50"/><rect x="161" y="425" width="5" height="1"/><rect x="166" y="425" width="1" height="1" opacity="0.50"/><rect x="635" y="425" width="5" height="1"/><rect x="634" y="425" width="1" height="1" opacity="0.50"/><rect x="536" y="61" width="1" height="5"/><rect x="536" y="66" width="1" height="1" opacity="0.50"/><rect x="536" y="535" width="1" height="5"/><rect x="536" y="534" width="1" height="1" opacity="0.50"/><rect x="161" y="436" width="5" height="1"/><rect x="166" y="436" width="1" height="1" opacity="0.50"/><rect x="635" y="436" width="5" height="1"/><rect x="634" y="436" width="1" height="1" opacity="0.50"/><rect x="547" y="61" width="1" height="5"/><rect x="547" y="66" width="1" height="1" opacity="0.50"/><rect x="547" y="535" width="1" height="5"/><rect x="547" y="534" width="1" height="1" opacity="0.50"/><rect x="161" y="447" width="5" height="1"/><rect x="166" y="447" width="1" height="1" opacity="0.50"/><rect x="635" y="447" width="5" height="1"/><rect x="634" y="447" width="1" height="1" opacity="0.50"/><rect x="558" y="61" width="1" height="5"/><rect x="558" y="66" width="1" height="1" opacity="0.50"/><rect x="558" y="535" width="1" height="5"/><rect x="558" y="534" width="1" height="1" opacity="0.50"/><rect x="161" y="458" width="5" height="1"/><rect x="166" y="458" width="1" height="1" opacity="0.50"/><rect x="635" y="458" width="5" height="1"/><rect x="634" y="458" width="1" height="1" opacity="0.50"/><rect x="569" y="61" width="1" height="5"/><rect x="569" y="66" width="1" height="1" opacity="0.50"/><rect x="569" y="535" width="1" height="5"/><rect x="569" y="534" width="1" height="1" opacity="0.50"/><rect x="161" y="469" width="5" height="1"/><rect x="166" y="469" width="1" height="1" opacity="0.50"/><rect x="635" y="469" width="5" height="1"/><rect x="634" y="469" width="1" height="1" opacity="0.50"/><rect x="580" y="61" width="1" height="5"/><rect x="580" y="66" width="1" height="1" opacity="0.50"/><rect x="580" y="535" width="1" height="5"/><rect x="580" y="534" width="1" height="1" opacity="0.50"/><rect x="161" y="480" width="5" height="1"/><rect x="166" y="480" width="1" height="1" opacity="0.50"/><rect x="635" y="480" width="5" height="1"/><rect x="634" y="480" width="1" height="1" opacity="0.50"/><rect x="591" y="61" width="1" height="5"/><rect x="591" y="66" width="1" height="1" opacity="0.50"/><rect x="591" y="535" width="1" height="5"/><rect x="591" y="534" width="1" height="1" opacity="0.50"/><rect x="161" y="491" width="5" height="1"/><rect x="166" y="491" width="1" height="1" opacity="0.50"/><rect x="635" y="491" width="5" height="1"/><rect x="634" y="491" width="1" height="1" opacity="0.50"/><rect x="602" y="61" width="1" height="5"/><rect x="602" y="66" width="1" height="1" opacity="0.50"/><rect x="602" y="535" width="1" height="5"/><rect x="602" y="534" width="1" height="1" opacity="0.50"/><rect x="161" y="502" width="5" height="1"/><rect x="166" y="502" width="1" height="1" opacity="0.50"/><rect x="635" y="502" width="5" height="1"/><rect x="634" y="502" width="1" height="1" opacity="0.50"/><rect x="613" y="61" width="1" height="5"/><rect x="613" y="66" width="1" height="1" opacity="0.50"/><rect x="613" y="535" width="1" height="5"/><rect x="613" y="534" width="1" height="1" opacity="0.50"/><rect x="161" y="513" width="5" height="1"/><rect x="166" y="513" width="1" height="1" opacity="0.50"/><rect x="635" y="513" width="5" height="1"/><rect x="634" y="513" width="1" height="1" opacity="0.50"/><rect x="624" y="61" width="1" height="5"/><rect x="624" y="66" width="1" height="1" opacity="0.50"/><rect x="624" y="535" width="1" height="5"/><rect x="624" y="534" width="1" height="1" opacity="0.50"/><rect x="161" y="524" width="5" height="1"/><rect x="166" y="524" width="1" height="1" opacity="0.50"/><rect x="635" y="524" width="5" height="1"/><rect x="634" y="524" width="1" height="1" opacity="0.50"/><rect x="635" y="61" width="1" height="5"/><rect x="635" y="66" width="1" height="1" opacity="0.50"/><rect x="635" y="535" width="1" height="5"/><rect x="635" y="534" width="1" height="1" opacity="0.50"/><rect x="161" y="535" width="5" height="1"/><rect x="166" y="535" width="1" height="1" opacity="0.50"/><rect x="635" y="535" width="5" height="1"/><rect x="634" y="535" width="1" height="1" opacity="0.50"/><rect x="691" y="540" width="5" height="1"/><rect x="690" y="540" width="1" height="1" opacity="0.50"/><rect x="691" y="479" width="5" height="1"/><rect x="690" y="479" width="1" height="1" opacity="0.50"/><rect x="691" y="418" width="5" height="1"/><rect x="690" y="418" width="1" height="1" opacity="0.50"/><rect x="691" y="357" width="5" height="1"/><rect x="690" y="357" width="1" height="1" opacity="0.50"/><rect x="691" y="296" width="5" height="1"/><rect x="690" y="296" width="1" height="1" opacity="0.50"/><rect x="691" y="235" width="5" height="1"/><rect x="690" y="235" width="1" height="1" opacity="0.50"/><rect x="691" y="174" width="5" height="1"/><rect x="690" y="174" width="1" height="1" opacity="0.50"/><rect x="691" y="113" width="5" height="1"/><rect x="690" y="113" width="1" height="1" opacity="0.50"/></g>
<text transform="translate(165.95,54) scale(1.140,1)" text-anchor="middle">C1&#39;</text>
<text transform="translate(156,71.15) scale(1.140,1)" text-anchor="end">C1&#39;</text>
<text transform="translate(220.50,54) scale(1.090,1)" text-anchor="middle">C4&#39;</text>
<text transform="translate(156,125.70) scale(1.090,1)" text-anchor="end">C4&#39;</text>
<text transform="translate(275.05,54) scale(1.030,1)" text-anchor="middle">N1</text>
<text transform="translate(156,180.25) scale(1.030,1)" text-anchor="end">N1</text>
<text transform="translate(329.59,54) scale(1.130,1)" text-anchor="middle">O2&#39;</text>
<text transform="translate(156,234.79) scale(1.130,1)" text-anchor="end">O2&#39;</text>
<text transform="translate(384.14,54) scale(0.950,1)" text-anchor="middle">OP2</text>
<text transform="translate(156,289.34) scale(0.950,1)" text-anchor="end">OP2</text>
<text transform="translate(438.68,54) scale(1.100,1)" text-anchor="middle">C3&#39;</text>
<text transform="translate(156,343.88) scale(1.100,1)" text-anchor="end">C3&#39;</text>
<text transform="translate(493.23,54) scale(1.000,1)" text-anchor="middle">C6</text>
<text transform="translate(156,398.43) scale(1.000,1)" text-anchor="end">C6</text>
<text transform="translate(547.77,54) scale(1.040,1)" text-anchor="middle">N7</text>
<text transform="translate(156,452.97) scale(1.040,1)" text-anchor="end">N7</text>
<text transform="translate(602.32,54) scale(1.080,1)" text-anchor="middle">O5&#39;</text>
<text transform="translate(156,507.52) scale(1.080,1)" text-anchor="end">O5&#39;</text>
<text transform="translate(701,545.90) scale(1.13,1)">0.0</text>
<text transform="translate(701,484.88) scale(1.13,1)">0.4</text>
<text transform="translate(701,423.86) scale(1.13,1)">0.8</text>
<text transform="translate(701,362.84) scale(1.13,1)">1.2</text>
<text transform="translate(701,301.82) scale(1.13,1)">1.6</text>
<text transform="translate(701,240.80) scale(1.13,1)">2.0</text>
<text transform="translate(701,179.78) scale(1.13,1)">2.4</text>
<text transform="translate(701,118.76) scale(1.13,1)">2.8</text>
</svg>
</body></html>
